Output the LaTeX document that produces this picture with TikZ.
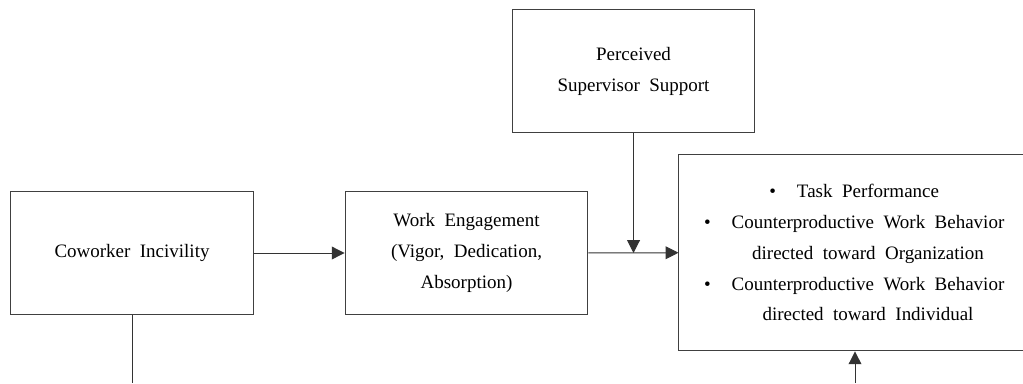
\documentclass[tikz,border=0pt]{standalone}
\usepackage{fontspec}
\setmainfont{Liberation Serif}
\usetikzlibrary{arrows.meta}
\newcommand\boxfont{\fontsize{13.5}{22}\selectfont\spaceskip=0.5em plus 0.1em\relax}
\begin{document}
\begin{tikzpicture}[x=0.025cm,y=-0.025cm,
    box/.style={draw=black!75,line width=0.7pt,inner sep=0pt,align=center,font=\boxfont},
    conn/.style={draw=black!80,line width=0.7pt},
    arr/.style={conn,-{Triangle[length=0.32cm,width=0.32cm]}}]
    \useasboundingbox (0,0) rectangle (1023,383);
    \clip (0,0) rectangle (1023,383);

    \node[box,minimum width=6.05cm,minimum height=3.05cm] (ci) at (132,253) {Coworker Incivility};
    \node[box,minimum width=6.07cm,minimum height=3.05cm] (we) at (466.5,253) {Work Engagement\\(Vigor, Dedication,\\Absorption)};
    \node[box,minimum width=6.07cm,minimum height=3.05cm] (pss) at (633.5,71) {Perceived\\Supervisor Support};
    \node[box,minimum width=9.45cm,minimum height=4.92cm] (out) at (868,252.5) {%
      \llap{\textbullet\hspace{1.1em}}Task Performance\\
      \llap{\textbullet\hspace{1.1em}}Counterproductive Work Behavior\\
      directed toward Organization\\
      \llap{\textbullet\hspace{1.1em}}Counterproductive Work Behavior\\
      directed toward Individual};
    \coordinate (mod) at (pss.south |- we.east);
    \coordinate (cibot) at (132,383);
    \coordinate (outbot) at (855,383);

    \draw[arr] (ci) -- (we);
    \draw[arr] (we) -- (out);
    \draw[arr] (pss) -- (mod);
    \draw[conn] (ci) -- (cibot);
    \draw[arr] (outbot) -- (outbot |- out.south);
\end{tikzpicture}
\end{document}
